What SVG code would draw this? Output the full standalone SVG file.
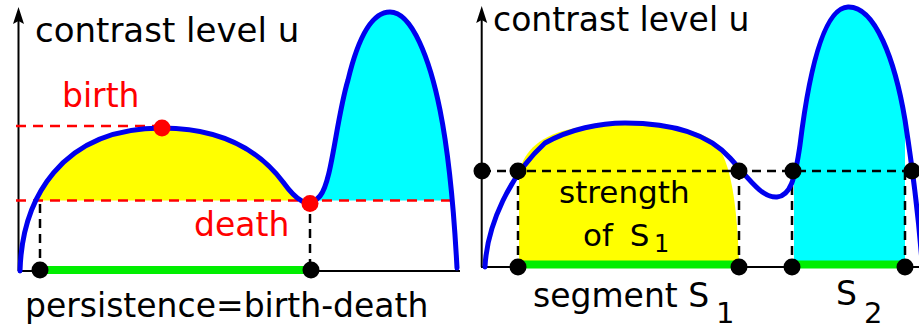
<svg xmlns="http://www.w3.org/2000/svg" width="919" height="329" viewBox="0 0 919 329">
<style>
text{font-family:"DejaVu Sans","Liberation Sans",sans-serif;}
.t{font-size:33px;fill:#000;}
.red{fill:#ff0000;}
.axis{stroke:#000;stroke-width:2;fill:none;}
.curve{stroke:#0000ee;stroke-width:5;fill:none;stroke-linecap:round;stroke-linejoin:round;}
.rdash{stroke:#ff0000;stroke-width:2.5;stroke-dasharray:10 7;fill:none;}
.kdash{stroke:#000;stroke-width:2.5;stroke-dasharray:9 6;fill:none;}
.green{stroke:#00ee00;stroke-width:8;}
.dot{fill:#000;}
.rdot{fill:#ff0000;}
</style>
<defs>
<clipPath id="clipY"><rect x="0" y="0" width="305" height="200.5"/></clipPath>
<clipPath id="clipC"><rect x="305" y="0" width="160" height="200.5"/></clipPath>
<clipPath id="clipC2"><rect x="794" y="0" width="111" height="262"/></clipPath>
</defs>

<g id="left-panel">
  <g id="left-fills">
    <path clip-path="url(#clipY)" fill="#ffff00" d="M20,271 C22,200 60,128 162,128 C215,128 255,145 283,182 C296,200 308,210 320,196 L320,271 Z"/>
    <path clip-path="url(#clipC)" fill="#00ffff" d="M283,182 C296,200 308,210 320,196 C332,182 336,120 348,80 C360,30 375,12 390,12 C412,12 430,60 440,110 C450,160 455,230 457,268 L283,268 Z"/>
  </g>
  <g id="left-axes">
    <line class="axis" x1="18.5" y1="271" x2="18.5" y2="20"/>
    <polygon points="18.5,7 24,24 18.5,21 13,24" fill="#000"/>
    <line class="axis" x1="18" y1="271" x2="460" y2="271"/>
  </g>
  <g id="left-connectors">
    <line class="rdash" x1="16" y1="126" x2="155" y2="126"/>
    <line class="rdash" x1="16" y1="200.5" x2="454" y2="200.5"/>
    <line class="kdash" x1="40" y1="204" x2="40" y2="263"/>
    <line class="kdash" x1="310" y1="214" x2="310" y2="263"/>
    <line class="green" x1="40" y1="270" x2="311" y2="270"/>
  </g>
  <path id="left-curve" class="curve" d="M20,271 C22,200 60,128 162,128 C215,128 255,145 283,182 C296,200 308,210 320,196 C332,182 336,120 348,80 C360,30 375,12 390,12 C412,12 430,60 440,110 C450,160 455,230 457,268"/>
  <g id="birth-node"><circle class="rdot" cx="162" cy="128" r="8.5"/><text class="t red" x="62" y="107">birth</text></g>
  <g id="death-node"><circle class="rdot" cx="310" cy="203.5" r="8.5"/><text class="t red" x="194" y="236">death</text></g>
  <g id="left-dots">
    <circle class="dot" cx="40" cy="270" r="8.5"/>
    <circle class="dot" cx="311" cy="270" r="8.5"/>
  </g>
  <text class="t" x="35" y="42" style="font-size:34px">contrast level u</text>
  <text class="t" x="25" y="317">persistence=birth-death</text>
</g>

<g id="right-panel">
  <g id="right-fills">
    <path fill="#ffff00" d="M523,264 Q519,264 519,256 L519,172 C525,150 540,135 575,128 C615,120 680,120 712,140 C730,155 737,200 739,264 Z"/>
    <path clip-path="url(#clipC2)" fill="#00ffff" d="M777,197 C790,196 795,180 800,145 C808,80 822,8 848,7 C875,6 895,60 905,120 C912,165 918,210 922,262 L777,262 Z"/>
    <rect x="794" y="255" width="111" height="10" rx="4" fill="#00ffff"/>
  </g>
  <g id="right-axes">
    <line class="axis" x1="481.7" y1="267" x2="481.7" y2="19"/>
    <polygon points="481.7,6 487.2,23 481.7,20 476.2,23" fill="#000"/>
    <line class="axis" x1="481" y1="267" x2="919" y2="267"/>
  </g>
  <g id="right-connectors">
    <line class="kdash" x1="482" y1="171" x2="919" y2="171"/>
    <line class="kdash" x1="518" y1="171" x2="518" y2="267"/>
    <line class="kdash" x1="739" y1="171" x2="739" y2="267"/>
    <line class="kdash" x1="792" y1="171" x2="792" y2="267"/>
    <line class="kdash" x1="905" y1="171" x2="905" y2="267"/>
    <line class="green" x1="518" y1="264.5" x2="739" y2="264.5"/>
    <line class="green" x1="792" y1="264.5" x2="905" y2="264.5"/>
  </g>
  <path id="right-curve" class="curve" d="M485,267 C487,225 510,175 545,143 C570,129 600,123 625,123 C665,123 705,130 730,158 C750,180 762,198 777,197 C790,196 795,180 800,145 C808,80 822,8 848,7 C875,6 895,60 905,120 C912,165 918,210 922,262"/>
  <g id="right-dots">
    <circle class="dot" cx="482" cy="171" r="8.5"/>
    <circle class="dot" cx="518" cy="171" r="8.5"/>
    <circle class="dot" cx="739" cy="171" r="8.5"/>
    <circle class="dot" cx="793" cy="171" r="8.5"/>
    <circle class="dot" cx="912" cy="171" r="8.5"/>
    <circle class="dot" cx="518" cy="267" r="8.5"/>
    <circle class="dot" cx="739" cy="267" r="8.5"/>
    <circle class="dot" cx="792" cy="267" r="8.5"/>
    <circle class="dot" cx="905" cy="267" r="8.5"/>
  </g>
  <text class="t" x="493" y="31">contrast level u</text>
  <g id="strength-label">
    <text class="t" x="559" y="203" style="font-size:31px">strength</text>
    <text class="t" x="583" y="246" style="font-size:31px;word-spacing:7px">of S</text>
    <text class="t" x="654" y="252" style="font-size:24px">1</text>
  </g>
  <g id="segment-label">
    <text class="t" x="533" y="307">segment S</text>
    <text class="t" x="716" y="323" style="font-size:29px">1</text>
  </g>
  <g id="s2-label">
    <text class="t" x="836" y="305">S</text>
    <text class="t" x="864" y="323" style="font-size:29px">2</text>
  </g>
</g>
</svg>
